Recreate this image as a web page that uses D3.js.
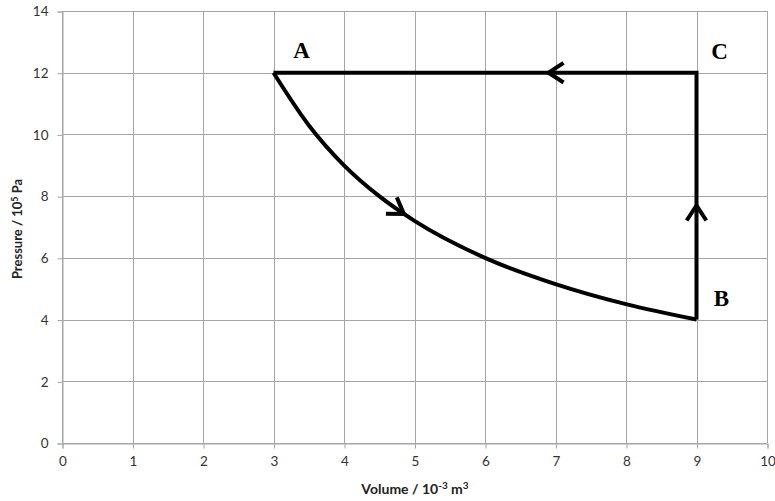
<!DOCTYPE html>
<html>
<head>
<meta charset="utf-8">
<script src="https://cdn.jsdelivr.net/npm/d3@7"></script>
<style>
  body { margin: 0; background: #fff; }
  .tick text { font-family: Lato, "Open Sans", sans-serif; font-size: 13.5px; fill: #333; }
  .title { font-family: Lato, "Open Sans", sans-serif; font-weight: bold; fill: #222; }
  .pt { font-family: "Liberation Serif", "DejaVu Serif", serif; font-size: 23px; font-weight: bold; fill: #000; }
</style>
</head>
<body>
<svg id="chart" width="775" height="501"></svg>
<script>
// cycle A -> B (curve), B -> C, C -> A
const curveAB = [
  [3, 12], [3.5, 10.3], [4, 9], [4.5, 8], [5, 7.2], [6, 6], [7, 5.15], [8, 4.5], [9, 4]
];
const lineBC = [[9, 4], [9, 12]];
const lineCA = [[9, 12], [3, 12]];
const pointLabels = [
  { name: "A", x: 3, y: 12 },
  { name: "B", x: 9, y: 4 },
  { name: "C", x: 9, y: 12 }
];
// arrow positions along each segment (x or y value where the chevron tip sits)
const arrowCurveX = 4.85;
const arrowBC_Y = 7.7;
const arrowCA_X = 6.9;
const xTicks = d3.range(0, 11);
const yTicks = d3.range(0, 15, 2);

const svg = d3.select("#chart");

const x = d3.scaleLinear().domain([0, 10]).range([62, 767]);
const y = d3.scaleLinear().domain([0, 14]).range([443, 11]);

// grid
const grid = svg.append("g").attr("stroke", "#a6a6a6").attr("stroke-width", 1);
grid.selectAll("line.v").data(xTicks).join("line")
  .attr("x1", d => Math.round(x(d)) + 0.5).attr("x2", d => Math.round(x(d)) + 0.5)
  .attr("y1", y(14)).attr("y2", y(0));
grid.selectAll("line.h").data(yTicks).join("line")
  .attr("y1", d => Math.round(y(d)) + 0.5).attr("y2", d => Math.round(y(d)) + 0.5)
  .attr("x1", x(0)).attr("x2", x(10));

// axes
const xAxis = svg.append("g")
  .attr("transform", `translate(0.5,${Math.round(y(0)) + 0.5})`)
  .call(d3.axisBottom(x).tickValues(xTicks).tickSize(5).tickPadding(8));
const yAxis = svg.append("g")
  .attr("transform", `translate(${Math.round(x(0)) + 0.5},0.5)`)
  .call(d3.axisLeft(y).tickValues(yTicks).tickSize(5).tickPadding(9));
[xAxis, yAxis].forEach(a => {
  a.select(".domain").attr("stroke", "#a6a6a6");
  a.selectAll(".tick line").attr("stroke", "#a6a6a6");
});

// titles
const xt = svg.append("text").attr("class", "title").attr("font-size", 14)
  .attr("x", 415).attr("y", 494).attr("text-anchor", "middle");
xt.append("tspan").text("Volume / 10");
xt.append("tspan").attr("dy", -5).attr("font-size", 10).text("-3");
xt.append("tspan").attr("dy", 5).text(" m");
xt.append("tspan").attr("dy", -5).attr("font-size", 10).text("3");

const yt = svg.append("text").attr("class", "title").attr("font-size", 13)
  .attr("transform", `translate(22,${229}) rotate(-90)`).attr("text-anchor", "middle");
yt.append("tspan").text("Pressure / 10");
yt.append("tspan").attr("dy", -4).attr("font-size", 9).text("5");
yt.append("tspan").attr("dy", 4).text(" Pa");

// cycle lines
const line = d3.line().x(d => x(d[0])).y(d => y(d[1]));
const curvePath = svg.append("path")
  .attr("d", line.curve(d3.curveMonotoneX)(curveAB))
  .attr("fill", "none").attr("stroke", "#000").attr("stroke-width", 4);
const straight = d3.line().x(d => x(d[0])).y(d => y(d[1]));
svg.append("path")
  .attr("d", straight([curveAB[curveAB.length - 1], ...lineBC.slice(1), ...lineCA.slice(1)]))
  .attr("fill", "none").attr("stroke", "#000").attr("stroke-width", 4)
  .attr("stroke-linejoin", "miter");

// chevron arrows
function chevron(px, py, angle) {
  const len = 18, spread = 33 * Math.PI / 180;
  const a1 = angle + Math.PI - spread, a2 = angle + Math.PI + spread;
  const p = d3.path();
  p.moveTo(px + len * Math.cos(a1), py + len * Math.sin(a1));
  p.lineTo(px, py);
  p.lineTo(px + len * Math.cos(a2), py + len * Math.sin(a2));
  svg.append("path").attr("d", p.toString())
    .attr("fill", "none").attr("stroke", "#000").attr("stroke-width", 4)
    .attr("stroke-linejoin", "miter").attr("stroke-linecap", "butt");
}

// locate the curve arrow on the drawn path
const node = curvePath.node();
const total = node.getTotalLength();
let lo = 0, hi = total;
for (let i = 0; i < 40; i++) {
  const mid = (lo + hi) / 2;
  if (node.getPointAtLength(mid).x < x(arrowCurveX)) lo = mid; else hi = mid;
}
const pA = node.getPointAtLength(lo), pB = node.getPointAtLength(lo + 1);
chevron(pA.x, pA.y, Math.atan2(pB.y - pA.y, pB.x - pA.x));
chevron(x(9), y(arrowBC_Y), -Math.PI / 2);
chevron(x(arrowCA_X), y(12), Math.PI);

// point labels
const offsets = { A: [28, -15], B: [25, -14], C: [23, -14] };
svg.selectAll("text.pt").data(pointLabels).join("text")
  .attr("class", "pt")
  .attr("x", d => x(d.x) + offsets[d.name][0])
  .attr("y", d => y(d.y) + offsets[d.name][1])
  .attr("text-anchor", "middle")
  .text(d => d.name);
</script>
</body>
</html>
